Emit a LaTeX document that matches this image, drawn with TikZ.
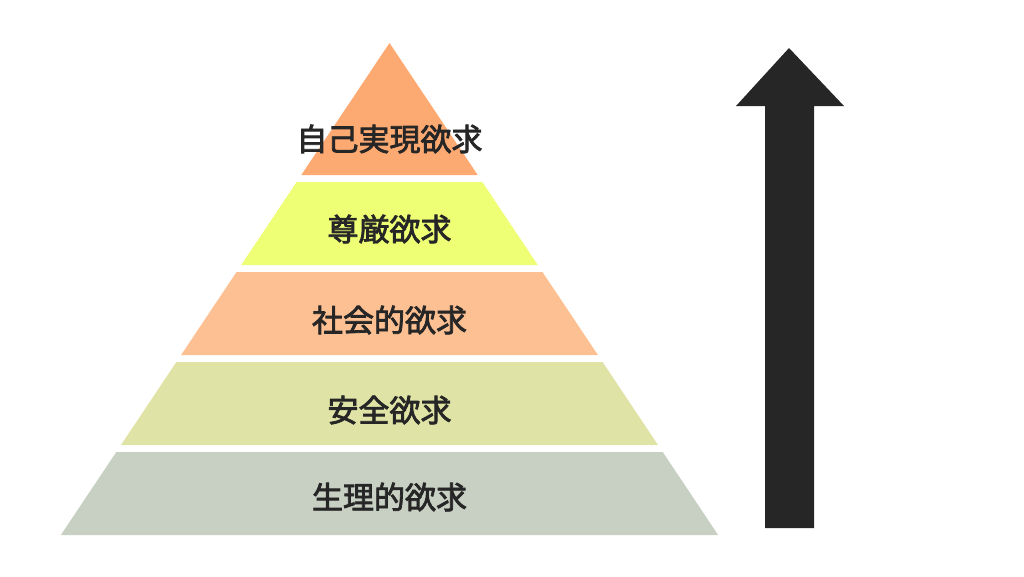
\documentclass[tikz,border=0pt]{standalone}
\usepackage{fontspec}
\setmainfont{Noto Sans CJK JP}
\newfontfamily\levelfont[FakeBold=2.5]{Noto Sans CJK JP}
\usetikzlibrary{positioning}
\definecolor{layerA}{HTML}{FDAA72}
\definecolor{layerB}{HTML}{EEFF75}
\definecolor{layerC}{HTML}{FDC093}
\definecolor{layerD}{HTML}{DFE4A6}
\definecolor{layerE}{HTML}{C8D0C3}
\definecolor{ink}{HTML}{262626}
\begin{document}
\begin{tikzpicture}[
      x=1pt,y=-1pt,
      level/.style={font=\levelfont\fontsize{31}{31}\selectfont, text=ink, inner sep=0pt},
      uparrow/.style={fill=ink, draw=none}
      ]
      \useasboundingbox (0,0) rectangle (1024,576);

      % pyramid, centre x = 389.5, slope 0.668
      \fill[layerA] (389.5,43) -- (477.7,175) -- (301.3,175) -- cycle;
      \foreach \t/\b/\c in {182/265/layerB, 272/355/layerC, 362/445/layerD, 452/535/layerE}{
        \pgfmathsetmacro{\wt}{(\t-43)*0.668}
        \pgfmathsetmacro{\wb}{(\b-43)*0.668}
        \fill[\c] (389.5-\wt,\t) -- (389.5+\wt,\t) -- (389.5+\wb,\b) -- (389.5-\wb,\b) -- cycle;
      }

      \node[level] (self)   at (389.5,139) {自己実現欲求};
      \node[level] (esteem) at (389.5,229) {尊厳欲求};
      \node[level] (social) at (389.5,320) {社会的欲求};
      \node[level] (safety) at (389.5,410) {安全欲求};
      \node[level] (body)   at (389.5,497) {生理的欲求};

      % arrow
      \fill[uparrow] (789,48) -- (844,106) -- (814,106) -- (814,528) -- (765,528) -- (765,106) -- (736,106) -- cycle;
    \end{tikzpicture}
\end{document}
